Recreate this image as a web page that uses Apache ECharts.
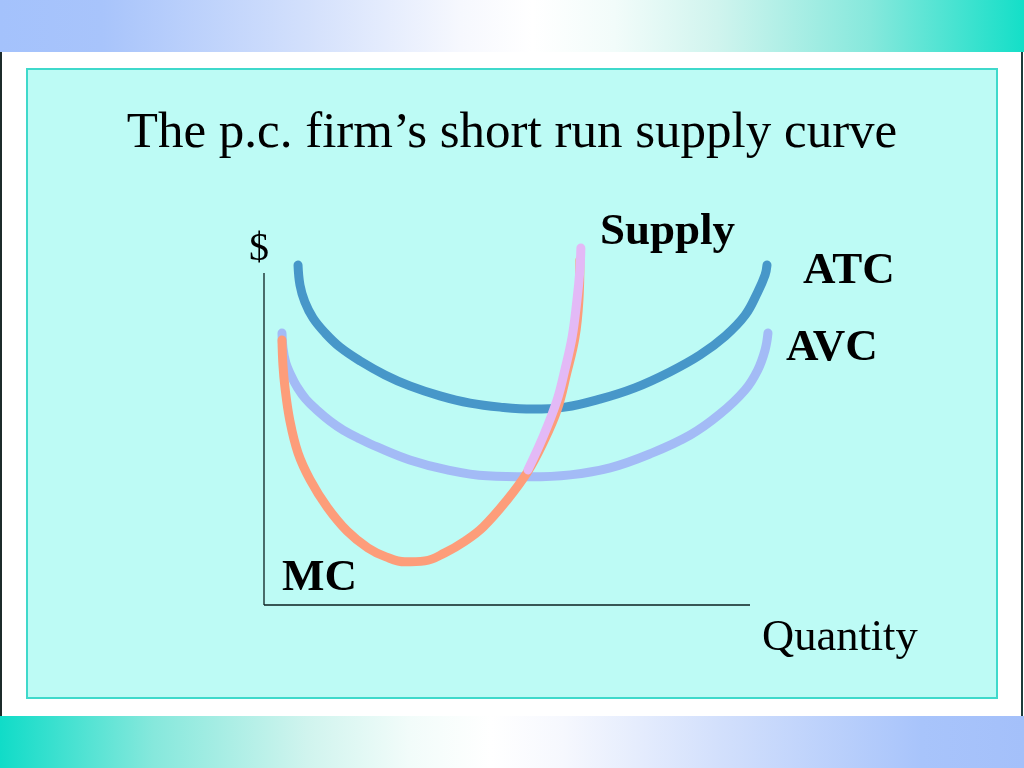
<!DOCTYPE html>
<html>
<head>
<meta charset="utf-8">
<script src="https://cdn.jsdelivr.net/npm/echarts@6/dist/echarts.min.js"></script>
<style>html,body{margin:0;padding:0;background:#fff}#c{width:1024px;height:768px}</style>
</head>
<body>
<div id="c"></div>
<script>
// Data (quantity, $) in abstract units: the drawn axes run 0..100 on both scales
const titleText = "The p.c. firm\u2019s short run supply curve";
const axisNames = ["$", "Quantity"];
const curveLabels = ["Supply", "ATC", "AVC", "MC"];
const quantityAxisData = [[0,0],[100,0]];
const priceAxisData = [[0,0],[0,100]];
const atcData = [[7.0,102.4],[7.4,96.4],[8.4,91.3],[10.1,86.4],[12.6,81.9],[15.6,77.7],[19.8,73.5],[24.9,69.3],[30.0,66.0],[36.2,63.0],[42.4,60.8],[48.6,59.6],[55.3,59.0],[61.9,59.6],[69.1,62.0],[76.3,65.4],[83.5,70.2],[89.7,75.3],[94.9,81.0],[99.0,87.3],[101.6,94.3],[103.1,99.4],[103.5,102.4]];
const avcData = [[3.7,81.9],[3.9,77.4],[4.5,72.9],[5.6,69.0],[6.8,65.7],[8.6,62.0],[10.9,58.7],[13.6,55.4],[16.3,52.7],[19.8,50.0],[23.3,47.6],[30.0,43.7],[37.7,40.7],[45.9,38.9],[54.7,38.6],[63.0,39.2],[71.2,41.3],[79.4,45.5],[87.7,51.2],[93.8,57.5],[99.0,64.8],[101.6,70.8],[103.1,76.8],[103.7,81.9]];
const mcData = [[3.7,79.8],[3.9,72.3],[4.3,65.7],[5.3,55.7],[7.0,45.8],[9.5,37.7],[13.0,29.5],[17.1,22.3],[21.4,17.2],[25.1,14.5],[29.0,13.0],[33.1,13.3],[37.2,15.7],[41.4,19.3],[45.1,23.5],[50.0,31.6],[54.1,39.8],[57.4,48.8],[60.3,58.7],[62.3,69.9],[64.0,80.7],[64.8,91.9],[65.0,103.9]];
const supplyData = [[54.3,40.7],[57.4,50.6],[60.3,61.7],[61.9,70.8],[63.4,80.7],[64.4,91.9],[65.0,100.9],[65.2,107.5]];

const chart = echarts.init(document.getElementById('c'), null, {renderer:'canvas'});
const curve = (name, data, color, z) => ({
  type:'line', name, data, smooth:0.4, showSymbol:false, clip:false, z, silent:true,
  lineStyle:{color, width:9, cap:'round', join:'round'}
});
const axisSeries = (name, data) => ({
  type:'line', name, data, showSymbol:false, clip:false, z:1, silent:true,
  lineStyle:{color:'#0b1f1f', width:1.3}
});
const TXT_ASC = 0.83;
const txt = (text, x, baseline, size, bold, align) => ({
  type:'text', x, y: baseline - TXT_ASC*size, z:100,
  style:{text, fill:'#000', font:(bold?'bold ':'')+size+'px "Liberation Serif", "Times New Roman", serif',
    align:align||'left', verticalAlign:'top'}
});
chart.setOption({
  backgroundColor:'#ffffff',
  animation:false,
  grid:{left:264, top:605-3.32*110, width:4.86*106, height:3.32*110, containLabel:false},
  xAxis:{type:'value', min:0, max:106, axisLine:{show:false}, axisTick:{show:false}, axisLabel:{show:false}, splitLine:{show:false}},
  yAxis:{type:'value', min:0, max:110, axisLine:{show:false}, axisTick:{show:false}, axisLabel:{show:false}, splitLine:{show:false}},
  graphic:[
    {type:'rect', z:-10, shape:{x:0,y:0,width:1024,height:52},
      style:{fill:new echarts.graphic.LinearGradient(0,0,1,0,[
        {offset:0,color:'#a4c2fc'},{offset:0.1,color:'#a8c4fb'},{offset:0.3,color:'#d3e0fc'},{offset:0.45,color:'#f6f8fe'},
        {offset:0.52,color:'#ffffff'},{offset:0.6,color:'#f2fcfa'},{offset:0.7,color:'#d0f4ee'},{offset:0.85,color:'#86e8dc'},{offset:1,color:'#14dfc8'}])}},
    {type:'rect', z:-10, shape:{x:0,y:716,width:1024,height:52},
      style:{fill:new echarts.graphic.LinearGradient(0,0,1,0,[
        {offset:0,color:'#10dcc8'},{offset:0.15,color:'#86e8dc'},{offset:0.3,color:'#d0f4ee'},{offset:0.4,color:'#f2fcfa'},
        {offset:0.48,color:'#ffffff'},{offset:0.55,color:'#f6f8fe'},{offset:0.7,color:'#d3e0fc'},{offset:0.9,color:'#a8c4fb'},{offset:1,color:'#a4c0fa'}])}},
    {type:'rect', z:-10, shape:{x:0,y:52,width:2,height:664}, style:{fill:'#1c2b2a'}},
    {type:'rect', z:-10, shape:{x:1021,y:52,width:2,height:664}, style:{fill:'#1c3b3a'}},
    {type:'rect', z:-9, shape:{x:27,y:69,width:970,height:629},
      style:{fill:'#bdfbf5', stroke:'#3fd9cb', lineWidth:2}},
    txt(titleText, 512, 150, 51, false, 'center'),
    txt(axisNames[0], 259, 263, 40, false, 'center'),
    txt(axisNames[1], 762, 653, 44.5, false, 'left'),
    txt(curveLabels[0], 600, 247, 45, true, 'left'),
    txt(curveLabels[1], 803, 286, 45, true, 'left'),
    txt(curveLabels[2], 786, 363, 45, true, 'left'),
    txt(curveLabels[3], 282, 593, 45, true, 'left')
  ],
  series:[
    axisSeries('Quantity axis', quantityAxisData),
    axisSeries('$ axis', priceAxisData),
    curve('AVC', avcData, '#a3bbf6', 3),
    curve('ATC', atcData, '#4797c9', 4),
    curve('MC', mcData, '#fd9d7a', 5),
    curve('Supply', supplyData, '#e3b9f6', 6)
  ]
});
</script>
</body>
</html>
